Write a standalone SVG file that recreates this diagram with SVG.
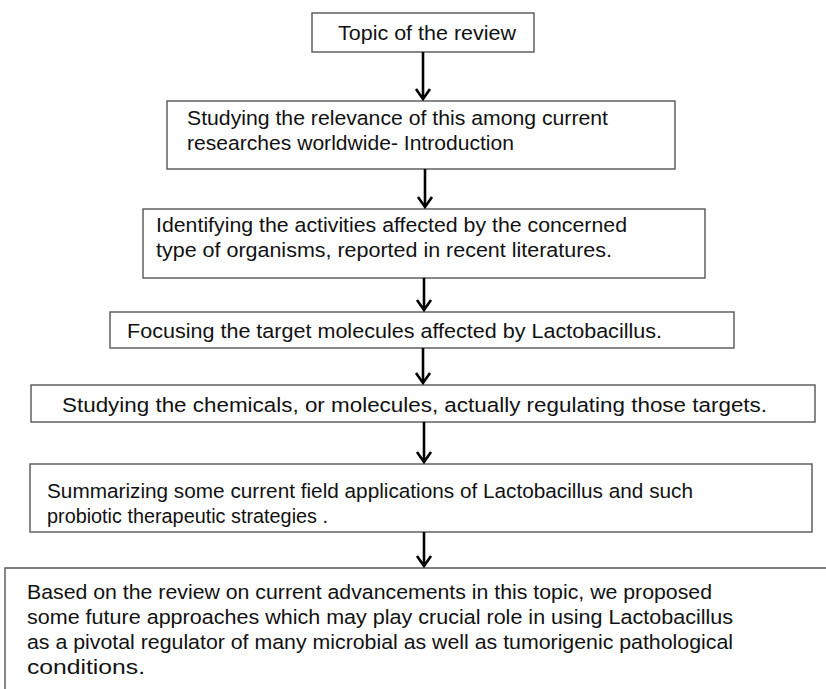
<svg xmlns="http://www.w3.org/2000/svg" width="826" height="689" viewBox="0 0 826 689">
<style>
.box{fill:#fff;stroke:#555;stroke-width:1.4}
.t{font-family:"Liberation Sans",Arial,sans-serif;font-size:20.5px;fill:#111}
.c{stroke:#000;stroke-width:2.6;fill:none}
</style>
<defs>
<marker id="ah" markerUnits="userSpaceOnUse" markerWidth="20" markerHeight="20" refX="13" refY="10" orient="auto" viewBox="0 0 20 20">
<path d="M3,3 L13,10 L3,17" fill="none" stroke="#000" stroke-width="2.6"/>
</marker>
</defs>
<rect width="826" height="689" fill="#fff"/>
<g id="n1">
<rect class="box" x="312" y="13" width="222" height="39"/>
<text class="t" x="338" y="40" textLength="178" lengthAdjust="spacingAndGlyphs">Topic of the review</text>
</g>
<g id="n2">
<rect class="box" x="167" y="101" width="508" height="68"/>
<text class="t" x="187" y="125" textLength="421" lengthAdjust="spacingAndGlyphs">Studying the relevance of this among current</text>
<text class="t" x="187" y="150" textLength="327" lengthAdjust="spacingAndGlyphs">researches worldwide- Introduction</text>
</g>
<g id="n3">
<rect class="box" x="143" y="209" width="562" height="69"/>
<text class="t" x="156" y="232" textLength="471" lengthAdjust="spacingAndGlyphs">Identifying the activities affected by the concerned</text>
<text class="t" x="156" y="257" textLength="456" lengthAdjust="spacingAndGlyphs">type of organisms, reported in recent literatures.</text>
</g>
<g id="n4">
<rect class="box" x="110" y="312" width="624" height="36"/>
<text class="t" x="127" y="338" textLength="535" lengthAdjust="spacingAndGlyphs">Focusing the target molecules affected by Lactobacillus.</text>
</g>
<g id="n5">
<rect class="box" x="31" y="385" width="784" height="37"/>
<text class="t" x="62" y="412" textLength="705" lengthAdjust="spacingAndGlyphs">Studying the chemicals, or molecules, actually regulating those targets.</text>
</g>
<g id="n6">
<rect class="box" x="30" y="464" width="782" height="68"/>
<text class="t" x="47" y="498" textLength="646" lengthAdjust="spacingAndGlyphs">Summarizing some current field applications of Lactobacillus and such</text>
<text class="t" x="47" y="523" textLength="281" lengthAdjust="spacingAndGlyphs">probiotic therapeutic strategies .</text>
</g>
<g id="n7">
<path class="box" d="M826,568 L5,568 L5,689"/>
<text class="t" x="27" y="599" textLength="685" lengthAdjust="spacingAndGlyphs">Based on the review on current advancements in this topic, we proposed</text>
<text class="t" x="27" y="624" textLength="706" lengthAdjust="spacingAndGlyphs">some future approaches which may play crucial role in using Lactobacillus</text>
<text class="t" x="27" y="649" textLength="706" lengthAdjust="spacingAndGlyphs">as a pivotal regulator of many microbial as well as tumorigenic pathological</text>
<text class="t" x="27" y="674" textLength="118" lengthAdjust="spacingAndGlyphs">conditions.</text>
</g>
<g id="connectors">
<path class="c" d="M423,52 L423,99" marker-end="url(#ah)"/>
<path class="c" d="M425,169 L425,207" marker-end="url(#ah)"/>
<path class="c" d="M424,278 L424,310" marker-end="url(#ah)"/>
<path class="c" d="M423,348 L423,383" marker-end="url(#ah)"/>
<path class="c" d="M424,422 L424,462" marker-end="url(#ah)"/>
<path class="c" d="M424,532 L424,566" marker-end="url(#ah)"/>
</g>
</svg>
